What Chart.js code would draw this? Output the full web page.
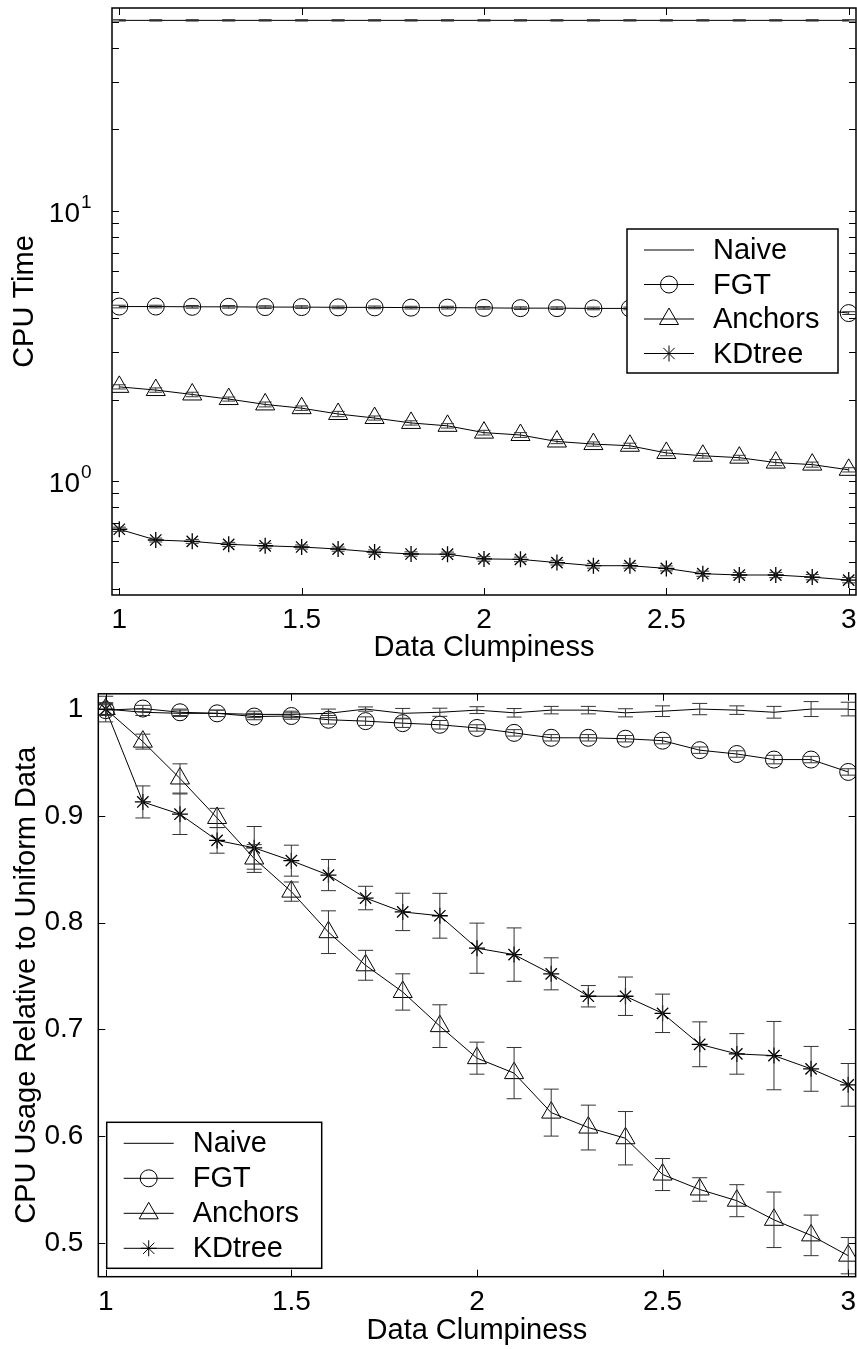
<!DOCTYPE html>
<html>
<head>
<meta charset="utf-8">
<script src="https://cdn.jsdelivr.net/npm/chart.js@4.4.1/dist/chart.umd.min.js"></script>
<style>
  html, body { margin: 0; padding: 0; background: #fff; }
  canvas { display: block; }
</style>
</head>
<body>
<canvas id="grafico-tempo" width="857" height="670"></canvas>
<canvas id="grafico-relativo" width="857" height="679"></canvas>
<script>
// --- dados ---
const clumpiness = [1.0, 1.1, 1.2, 1.3, 1.4, 1.5, 1.6, 1.7, 1.8, 1.9, 2.0, 2.1, 2.2, 2.3, 2.4, 2.5, 2.6, 2.7, 2.8, 2.9, 3.0];
const xTicks = [1, 1.5, 2, 2.5, 3];
const xTickLabels = ['1', '1.5', '2', '2.5', '3'];

// grafico de cima: tempo de CPU (escala log)
const naiveTime = [50.6, 50.6, 50.6, 50.6, 50.6, 50.6, 50.6, 50.6, 50.6, 50.6, 50.6, 50.6, 50.6, 50.6, 50.6, 50.6, 50.6, 50.6, 50.6, 50.6, 50.6];
const fgtTime = [4.42, 4.42, 4.41, 4.41, 4.40, 4.40, 4.39, 4.39, 4.38, 4.38, 4.37, 4.36, 4.36, 4.35, 4.35, 4.35, 4.34, 4.34, 4.33, 4.33, 4.18];
const anchorsTime = [2.23, 2.17, 2.09, 2.01, 1.92, 1.86, 1.77, 1.71, 1.64, 1.60, 1.51, 1.48, 1.40, 1.37, 1.35, 1.27, 1.24, 1.22, 1.17, 1.15, 1.10];
const kdtreeTime = [0.663, 0.605, 0.598, 0.583, 0.576, 0.570, 0.560, 0.546, 0.537, 0.536, 0.515, 0.513, 0.499, 0.486, 0.486, 0.475, 0.454, 0.449, 0.449, 0.441, 0.430];
const naiveTimeErr = [0.3, 0.3, 0.3, 0.3, 0.3, 0.3, 0.3, 0.3, 0.3, 0.3, 0.3, 0.3, 0.3, 0.3, 0.3, 0.3, 0.3, 0.3, 0.3, 0.3, 0.3];
const fgtTimeErr = [0.05, 0.05, 0.05, 0.05, 0.05, 0.05, 0.05, 0.05, 0.05, 0.05, 0.05, 0.05, 0.05, 0.05, 0.05, 0.05, 0.05, 0.05, 0.05, 0.05, 0.05];
const anchorsTimeErr = [0.04, 0.04, 0.04, 0.035, 0.04, 0.035, 0.04, 0.03, 0.03, 0.03, 0.03, 0.03, 0.025, 0.025, 0.03, 0.03, 0.025, 0.025, 0.03, 0.025, 0.02];
const kdtreeTimeErr = [0.012, 0.01, 0.01, 0.01, 0.012, 0.01, 0.01, 0.01, 0.01, 0.01, 0.01, 0.01, 0.01, 0.01, 0.01, 0.01, 0.01, 0.01, 0.01, 0.01, 0.01];
const logTicks = [1, 10];
const logExpoentes = ['0', '1'];
const logMinorTicks = [0.4, 0.5, 0.6, 0.7, 0.8, 0.9, 2, 3, 4, 5, 6, 7, 8, 9, 20, 30, 40, 50];

// grafico de baixo: uso relativo a dados uniformes
const naiveRel = [1.0, 0.997, 0.996, 0.996, 0.995, 0.995, 0.996, 1.0, 0.996, 0.997, 0.999, 0.9965, 0.999, 0.999, 0.9965, 0.998, 1.0, 0.999, 0.997, 1.0, 1.0];
const fgtRel = [0.999, 1.0005, 0.997, 0.996, 0.993, 0.9935, 0.990, 0.9887, 0.9868, 0.9853, 0.9823, 0.9777, 0.9731, 0.9731, 0.9722, 0.9704, 0.9615, 0.9579, 0.9527, 0.9527, 0.9411];
const anchorsRel = [1.0, 0.9695, 0.935, 0.898, 0.860, 0.829, 0.791, 0.760, 0.735, 0.703, 0.673, 0.659, 0.622, 0.608, 0.598, 0.564, 0.550, 0.5395, 0.5216, 0.507, 0.488];
const kdtreeRel = [1.0, 0.913, 0.9015, 0.877, 0.870, 0.858, 0.8445, 0.823, 0.810, 0.8064, 0.776, 0.770, 0.752, 0.731, 0.731, 0.715, 0.686, 0.677, 0.6754, 0.663, 0.648];
const naiveRelErr = [0.005, 0.003, 0.003, 0.003, 0.003, 0.003, 0.004, 0.002, 0.0046, 0.0038, 0.0032, 0.004, 0.0035, 0.0035, 0.0038, 0.005, 0.0053, 0.004, 0.0055, 0.007, 0.0064];
const fgtRelErr = [0.005, 0.003, 0.003, 0.003, 0.003, 0.003, 0.004, 0.004, 0.004, 0.004, 0.003, 0.003, 0.003, 0.003, 0.003, 0.003, 0.003, 0.003, 0.004, 0.003, 0.003];
const anchorsRelErr = [0.006, 0.007, 0.0137, 0.009, 0.013, 0.009, 0.02, 0.014, 0.017, 0.02, 0.015, 0.024, 0.022, 0.021, 0.025, 0.015, 0.011, 0.015, 0.026, 0.019, 0.017];
const kdtreeRelErr = [0.012, 0.015, 0.019, 0.012, 0.02, 0.0145, 0.0146, 0.011, 0.0175, 0.021, 0.0235, 0.025, 0.015, 0.01, 0.018, 0.018, 0.021, 0.019, 0.032, 0.021, 0.02];
const relTicks = [0.5, 0.6, 0.7, 0.8, 0.9, 1];
const relTickLabels = ['0.5', '0.6', '0.7', '0.8', '0.9', '1'];

const FONTE = '"Liberation Sans", Arial, Helvetica, sans-serif';
Chart.defaults.font.family = FONTE;
Chart.defaults.color = '#000';

const pontos = (valores) => clumpiness.map((c, i) => ({ x: c, y: valores[i] }));

// barras de erro verticais com "chapeu"
const errosPlugin = {
    id: 'erros',
    afterDatasetsDraw(chart, args, opts) {
        const { ctx, scales } = chart;
        ctx.save();
        ctx.strokeStyle = '#333';
        ctx.lineWidth = 1;
        ctx.beginPath();
        chart.data.datasets.forEach(ds => {
            if (!ds.erros) return;
            ds.data.forEach((p, i) => {
                const e = ds.erros[i];
                const px = scales.x.getPixelForValue(p.x);
                const y1 = scales.y.getPixelForValue(p.y + e);
                const y2 = scales.y.getPixelForValue(p.y - e);
                ctx.moveTo(px, y1); ctx.lineTo(px, y2);
                ctx.moveTo(px - opts.cap, y1); ctx.lineTo(px + opts.cap, y1);
                ctx.moveTo(px - opts.cap, y2); ctx.lineTo(px + opts.cap, y2);
            });
        });
        ctx.stroke();
        ctx.restore();
    }
};

// caixa dos eixos e tracinhos internos
const molduraPlugin = {
    id: 'moldura',
    afterDatasetsDraw(chart, args, opts) {
        const { ctx, chartArea: a, scales } = chart;
        ctx.save();
        ctx.strokeStyle = '#000';
        ctx.lineWidth = 1;
        ctx.beginPath();
        opts.xTicks.forEach(v => {
            const px = Math.round(scales.x.getPixelForValue(v)) + 0.5;
            ctx.moveTo(px, a.bottom); ctx.lineTo(px, a.bottom - 7);
            ctx.moveTo(px, a.top); ctx.lineTo(px, a.top + 7);
        });
        opts.yTicks.forEach(v => {
            const py = Math.round(scales.y.getPixelForValue(v)) + 0.5;
            ctx.moveTo(a.left, py); ctx.lineTo(a.left + 7, py);
            ctx.moveTo(a.right, py); ctx.lineTo(a.right - 7, py);
        });
        ctx.stroke();
        ctx.lineWidth = 1.5;
        ctx.strokeRect(a.left, a.top, a.right - a.left, a.bottom - a.top);
        ctx.restore();
    }
};

// legenda dentro da area do grafico
const legendaPlugin = {
    id: 'legenda',
    afterDraw(chart, args, opts) {
        const { ctx, chartArea: a } = chart;
        const x0 = opts.canto === 'direita' ? a.right - opts.dx - opts.w : a.left + opts.dx;
        const y0 = opts.canto === 'direita' ? a.top + opts.dy : a.bottom - opts.dy - opts.h;
        ctx.save();
        ctx.fillStyle = '#fff';
        ctx.fillRect(x0, y0, opts.w, opts.h);
        ctx.strokeStyle = '#000';
        ctx.lineWidth = 1.5;
        ctx.strokeRect(x0, y0, opts.w, opts.h);
        chart.data.datasets.forEach((ds, i) => {
            const cy = y0 + opts.primeira + i * opts.passo;
            ctx.strokeStyle = '#000';
            ctx.lineWidth = 1;
            ctx.beginPath();
            ctx.moveTo(x0 + 17, cy); ctx.lineTo(x0 + 67, cy);
            ctx.stroke();
            if (ds.pointRadius > 0) {
                ctx.fillStyle = 'rgba(0,0,0,0)';
                Chart.helpers.drawPoint(ctx, {
                    pointStyle: ds.pointStyle, radius: ds.pointRadius, borderWidth: 1, rotation: 0
                }, x0 + 42, cy);
            }
            ctx.fillStyle = '#000';
            ctx.font = '29px ' + FONTE;
            ctx.textAlign = 'left';
            ctx.textBaseline = 'middle';
            ctx.fillText(ds.label, x0 + 86, cy + 1);
        });
        ctx.restore();
    }
};

// rotulos 10^k do eixo log
const rotuloLogPlugin = {
    id: 'rotuloLog',
    afterDraw(chart, args, opts) {
        const { ctx, chartArea: a, scales } = chart;
        ctx.save();
        ctx.fillStyle = '#000';
        logTicks.forEach((v, i) => {
            const py = scales.y.getPixelForValue(v);
            ctx.font = '28px ' + FONTE;
            ctx.textAlign = 'right';
            ctx.textBaseline = 'alphabetic';
            ctx.fillText('10', a.left - 32, py + 11);
            ctx.font = '19px ' + FONTE;
            ctx.textAlign = 'left';
            ctx.fillText(logExpoentes[i], a.left - 31, py - 3);
        });
        ctx.restore();
    }
};

const serie = (label, valores, erros, estilo, raio) => ({
    label: label,
    data: pontos(valores),
    erros: erros,
    borderColor: '#000',
    borderWidth: 1,
    tension: 0,
    pointStyle: estilo,
    pointRadius: raio,
    pointHoverRadius: raio,
    pointBorderColor: '#000',
    pointBackgroundColor: 'rgba(0,0,0,0)',
    pointBorderWidth: estilo === 'star' ? 1.3 : 1
});

const eixoX = (altura, padTicks, padTitulo) => ({
    type: 'linear', min: 0.98, max: 3.02,
    afterBuildTicks: s => { s.ticks = xTicks.map(v => ({ value: v })); },
    afterFit: s => { s.height = altura; },
    grid: { display: false }, border: { display: false },
    ticks: { font: { size: 28 }, color: '#000', padding: padTicks, maxRotation: 0, autoSkip: false,
             callback: (v, i) => xTickLabels[i] },
    title: { display: true, text: 'Data Clumpiness', font: { size: 29 }, color: '#000',
             padding: { top: 0, bottom: padTitulo } }
});

// --- grafico de cima ---
new Chart(document.getElementById('grafico-tempo'), {
    type: 'line',
    data: {
        datasets: [
            serie('Naive', naiveTime, naiveTimeErr, 'circle', 0),
            serie('FGT', fgtTime, fgtTimeErr, 'circle', 8.5),
            serie('Anchors', anchorsTime, anchorsTimeErr, 'triangle', 11),
            serie('KDtree', kdtreeTime, kdtreeTimeErr, 'star', 8)
        ]
    },
    options: {
        responsive: false, animation: false, events: [],
        layout: { autoPadding: false, padding: { top: 8, right: 1, left: 0, bottom: 0 } },
        scales: {
            x: eixoX(75, 0, 4.6),
            y: {
                type: 'logarithmic', min: 0.3787, max: 56.22,
                afterBuildTicks: s => { s.ticks = logTicks.map(v => ({ value: v })); },
                afterFit: s => { s.width = 112; },
                grid: { display: false }, border: { display: false },
                ticks: { display: false },
                title: { display: true, text: 'CPU Time', font: { size: 29 }, color: '#000', padding: { top: 8 } }
            }
        },
        plugins: {
            legend: { display: false },
            tooltip: { enabled: false },
            erros: { cap: 6.5 },
            moldura: { xTicks: xTicks, yTicks: logTicks.concat(logMinorTicks) },
            legenda: { canto: 'direita', dx: 18, dy: 221, w: 211, h: 144, primeira: 21, passo: 34.5 }
        }
    },
    plugins: [errosPlugin, molduraPlugin, legendaPlugin, rotuloLogPlugin]
});

// --- grafico de baixo ---
new Chart(document.getElementById('grafico-relativo'), {
    type: 'line',
    data: {
        datasets: [
            serie('Naive', naiveRel, naiveRelErr, 'circle', 0),
            serie('FGT', fgtRel, fgtRelErr, 'circle', 8.5),
            serie('Anchors', anchorsRel, anchorsRelErr, 'triangle', 11),
            serie('KDtree', kdtreeRel, kdtreeRelErr, 'star', 8)
        ]
    },
    options: {
        responsive: false, animation: false, events: [],
        layout: { autoPadding: false, padding: { top: 9.3, right: 1, left: 0, bottom: 0 } },
        scales: {
            x: eixoX(72.3, 1, 0.9),
            y: {
                type: 'linear', min: 0.4683, max: 1.0143,
                afterBuildTicks: s => { s.ticks = relTicks.map(v => ({ value: v })); },
                afterFit: s => { s.width = 98.3; },
                grid: { display: false }, border: { display: false },
                ticks: { font: { size: 28 }, color: '#000', padding: 7, autoSkip: false,
                         callback: (v, i) => relTickLabels[i] },
                title: { display: true, text: 'CPU Usage Relative to Uniform Data', font: { size: 29 }, color: '#000', padding: { top: 10 } }
            }
        },
        plugins: {
            legend: { display: false },
            tooltip: { enabled: false },
            erros: { cap: 7.5 },
            moldura: { xTicks: xTicks, yTicks: relTicks },
            legenda: { canto: 'esquerda', dx: 8.4, dy: 8.4, w: 215, h: 146, primeira: 21, passo: 35 }
        }
    },
    plugins: [errosPlugin, molduraPlugin, legendaPlugin]
});
</script>
</body>
</html>
